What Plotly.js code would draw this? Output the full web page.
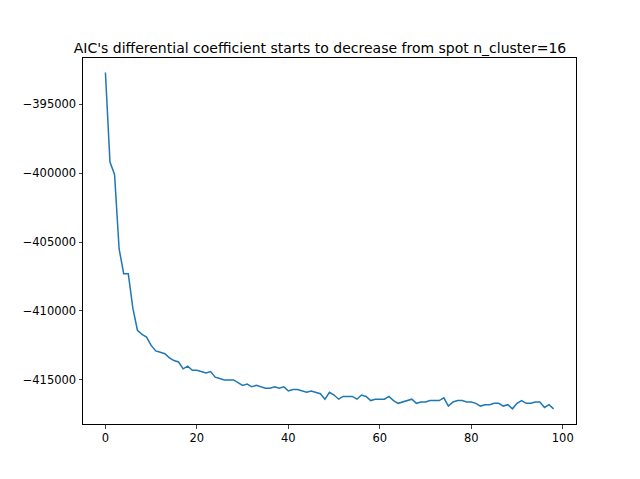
<!DOCTYPE html>
<html><head><script src="https://cdn.plot.ly/plotly-3.0.1.min.js"></script></head>
<body style="margin:0">
<div id="c" style="width:640px;height:479px"></div>
<script>
const aic = [-392700,-399200,-400100,-405500,-407300,-407300,-409800,-411400,-411700,-411900,
-412500,-412900,-413000,-413100,-413400,-413600,-413700,-414200,-414000,-414300,
-414300,-414400,-414500,-414400,-414800,-414900,-415000,-415000,-415000,-415200,
-415400,-415300,-415500,-415400,-415500,-415600,-415600,-415500,-415600,-415500,
-415800,-415700,-415700,-415800,-415900,-415800,-415900,-416000,-416400,-415900,
-416100,-416400,-416200,-416200,-416200,-416400,-416100,-416200,-416500,-416400,
-416400,-416400,-416200,-416500,-416700,-416600,-416500,-416400,-416700,-416600,
-416600,-416500,-416500,-416500,-416300,-416900,-416600,-416500,-416500,-416600,
-416600,-416700,-416900,-416800,-416800,-416700,-416700,-416900,-416800,-417100,
-416700,-416500,-416700,-416700,-416600,-416600,-417000,-416800,-417100];
const xs = aic.map((_, i) => i);
const xticks = [0,20,40,60,80,100];
const yticks = [-395000,-400000,-405000,-410000,-415000];
Plotly.newPlot('c', [{x: xs, y: aic, type:'scatter', mode:'lines', line:{color:'#1f77b4', width:1.5}}], {
  width:640, height:479, margin:{l:83, r:64, t:58, b:55},
  paper_bgcolor:'white', plot_bgcolor:'white', showlegend:false,
  font:{family:'DejaVu Sans', size:11.5, color:'black'},
  title:{text:"AIC's differential coefficient starts to decrease from spot n_cluster=16", font:{size:14}, x:0.5, xanchor:'center', yref:'container', y:0.89, yanchor:'bottom'},
  xaxis:{range:[-4.9,102.9], tickvals:xticks, ticks:'outside', ticklen:3.5, showgrid:false, zeroline:false, showline:true, mirror:true, linecolor:'black', linewidth:1},
  yaxis:{range:[-418200,-391650], tickvals:yticks, ticktext:yticks.map(v=>'−'+Math.abs(v)), ticks:'outside', ticklen:3.5, showgrid:false, zeroline:false, showline:true, mirror:true, linecolor:'black', linewidth:1}
}, {staticPlot:true});
</script></body></html>
